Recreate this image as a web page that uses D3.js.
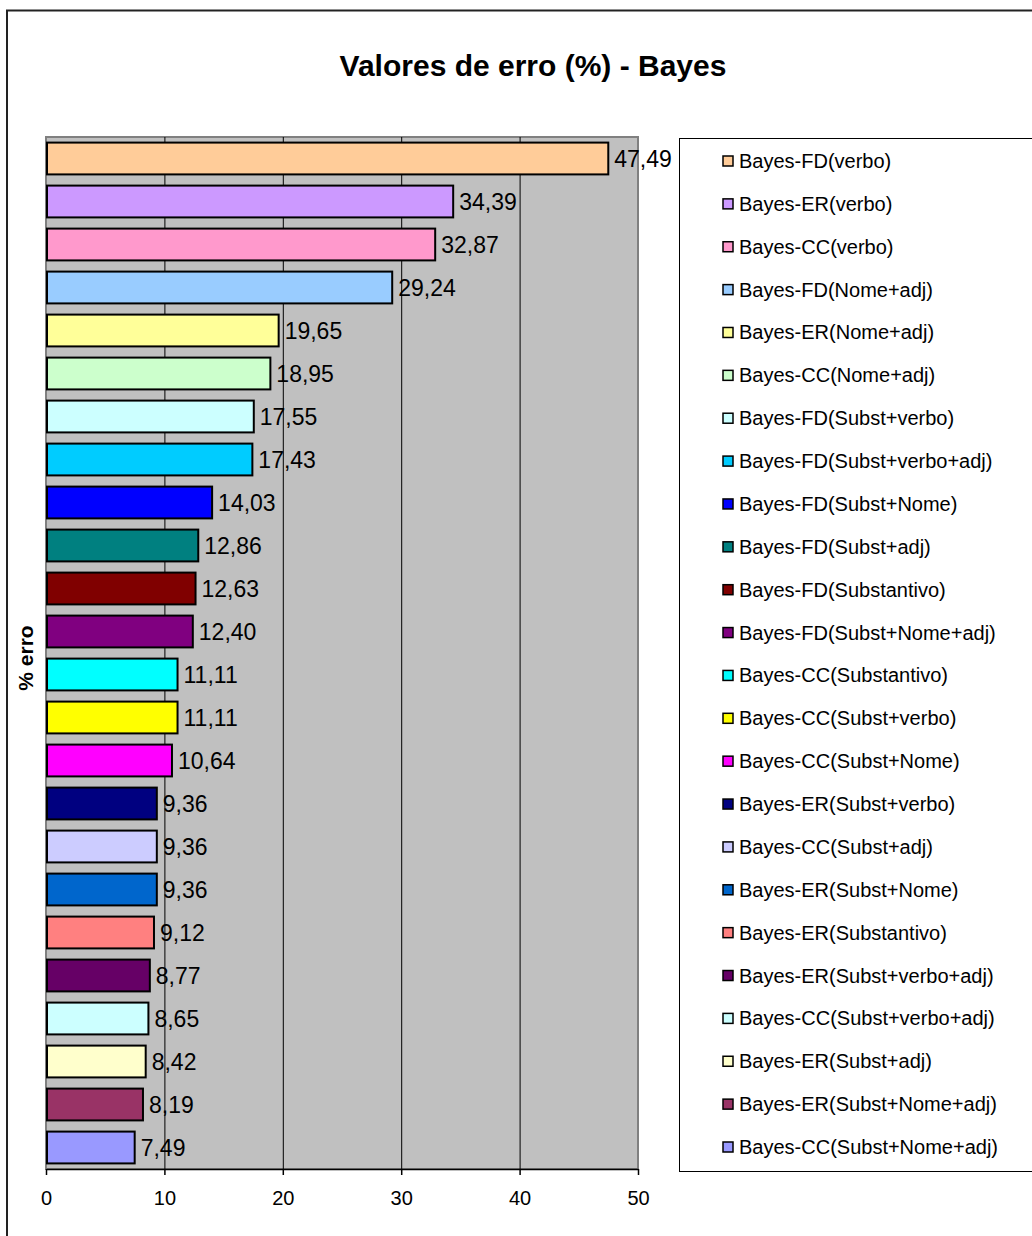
<!DOCTYPE html>
<html>
<head>
<meta charset="utf-8">
<script src="https://cdn.jsdelivr.net/npm/d3@7"></script>
<style>
  body { margin: 0; background: #fff; }
  text { font-family: "Liberation Sans", Arial, sans-serif; fill: #000; }
</style>
</head>
<body>
<div class="container"></div>
<script>
const categories = [
  'Bayes-FD(verbo)',
  'Bayes-ER(verbo)',
  'Bayes-CC(verbo)',
  'Bayes-FD(Nome+adj)',
  'Bayes-ER(Nome+adj)',
  'Bayes-CC(Nome+adj)',
  'Bayes-FD(Subst+verbo)',
  'Bayes-FD(Subst+verbo+adj)',
  'Bayes-FD(Subst+Nome)',
  'Bayes-FD(Subst+adj)',
  'Bayes-FD(Substantivo)',
  'Bayes-FD(Subst+Nome+adj)',
  'Bayes-CC(Substantivo)',
  'Bayes-CC(Subst+verbo)',
  'Bayes-CC(Subst+Nome)',
  'Bayes-ER(Subst+verbo)',
  'Bayes-CC(Subst+adj)',
  'Bayes-ER(Subst+Nome)',
  'Bayes-ER(Substantivo)',
  'Bayes-ER(Subst+verbo+adj)',
  'Bayes-CC(Subst+verbo+adj)',
  'Bayes-ER(Subst+adj)',
  'Bayes-ER(Subst+Nome+adj)',
  'Bayes-CC(Subst+Nome+adj)'
];
const values = [
  47.49, 34.39, 32.87, 29.24, 19.65, 18.95, 17.55, 17.43,
  14.03, 12.86, 12.63, 12.40, 11.11, 11.11, 10.64, 9.36,
  9.36, 9.36, 9.12, 8.77, 8.65, 8.42, 8.19, 7.49
];
const colors = [
  '#ffcc99', '#cc99ff', '#ff99cc', '#99ccff', '#ffff99', '#ccffcc',
  '#ccffff', '#00ccff', '#0000ff', '#008080', '#800000', '#800080',
  '#00ffff', '#ffff00', '#ff00ff', '#000080', '#ccccff', '#0066cc',
  '#ff8080', '#660066', '#ccffff', '#ffffcc', '#993366', '#9999ff'
];
const xTicks = [0, 10, 20, 30, 40, 50];

const width = 1032;
const height = 1236;
const plot = { left: 46, right: 638, top: 137, bottom: 1169 };

const data = categories.map((c, i) => ({ name: c, value: values[i], color: colors[i] }));

const svg = d3.select('.container')
  .append('svg')
  .attr('width', width)
  .attr('height', height);

// outer chart frame
svg.append('rect')
  .attr('x', 7)
  .attr('y', 10.5)
  .attr('width', 1100)
  .attr('height', 1300)
  .attr('fill', 'none')
  .attr('stroke', '#222')
  .attr('stroke-width', 2);

// title
svg.append('text')
  .attr('x', 533)
  .attr('y', 76)
  .attr('text-anchor', 'middle')
  .style('font-size', '30px')
  .style('font-weight', 'bold')
  .text('Valores de erro (%) - Bayes');

// scales
const xScale = d3.scaleLinear()
  .domain([0, 50])
  .range([plot.left, plot.right]);

const yScale = d3.scaleBand()
  .domain(categories)
  .range([plot.top, plot.bottom])
  .paddingInner(0.26)
  .paddingOuter(0.13);

// plot background
svg.append('rect')
  .attr('x', plot.left)
  .attr('y', plot.top)
  .attr('width', plot.right - plot.left)
  .attr('height', plot.bottom - plot.top)
  .attr('fill', '#c0c0c0')
  .attr('stroke', '#808080')
  .attr('stroke-width', 2);

// gridlines
svg.append('g')
  .selectAll('line')
  .data(xTicks.filter(t => t > 0 && t < 50))
  .enter()
  .append('line')
  .attr('x1', d => xScale(d) + 0.5)
  .attr('x2', d => xScale(d) + 0.5)
  .attr('y1', plot.top)
  .attr('y2', plot.bottom)
  .attr('stroke', '#000')
  .attr('stroke-width', 1);

// bars
svg.append('g')
  .selectAll('rect')
  .data(data)
  .enter()
  .append('rect')
  .attr('x', xScale(0) + 1)
  .attr('y', d => yScale(d.name))
  .attr('width', d => xScale(d.value) - xScale(0) - 1)
  .attr('height', yScale.bandwidth())
  .attr('fill', d => d.color)
  .attr('stroke', '#000')
  .attr('stroke-width', 2);

// value labels
svg.append('g')
  .selectAll('text')
  .data(data)
  .enter()
  .append('text')
  .attr('x', d => xScale(d.value) + 6)
  .attr('y', d => yScale(d.name) + yScale.bandwidth() / 2 + 8)
  .style('font-size', '23px')
  .text(d => d.value.toFixed(2).replace('.', ','));

// x axis
const xAxis = svg.append('g')
  .attr('transform', `translate(0, ${plot.bottom})`)
  .call(d3.axisBottom(xScale)
    .tickValues(xTicks)
    .tickSize(6)
    .tickSizeOuter(0)
    .tickPadding(16));
xAxis.select('.domain').attr('stroke', '#000').attr('stroke-width', 1.5);
xAxis.selectAll('.tick line').attr('stroke', '#000').attr('stroke-width', 1.5);
xAxis.selectAll('.tick text')
  .style('font-size', '20px')
  .style('font-family', '"Liberation Sans", Arial, sans-serif')
  .attr('fill', '#000');

// y axis label
svg.append('text')
  .attr('transform', 'translate(33, 658) rotate(-90)')
  .attr('text-anchor', 'middle')
  .style('font-size', '21px')
  .style('font-weight', 'bold')
  .text('% erro');

// legend
const legendTop = 138;
const legendBottom = 1171;
const legend = svg.append('g').attr('id', 'legend');

legend.append('rect')
  .attr('x', 679.5)
  .attr('y', legendTop + 0.5)
  .attr('width', 500)
  .attr('height', legendBottom - legendTop)
  .attr('fill', '#fff')
  .attr('stroke', '#000')
  .attr('stroke-width', 1);

const legendScale = d3.scalePoint()
  .domain(categories)
  .range([161, 1147]);

const items = legend.selectAll('g.item')
  .data(data)
  .enter()
  .append('g')
  .attr('class', 'item')
  .attr('transform', d => `translate(0, ${legendScale(d.name)})`);

items.append('rect')
  .attr('x', 723)
  .attr('y', -5)
  .attr('width', 10)
  .attr('height', 10)
  .attr('fill', d => d.color)
  .attr('stroke', '#000')
  .attr('stroke-width', 1.5);

items.append('text')
  .attr('x', 739)
  .attr('y', 7)
  .style('font-size', '20px')
  .text(d => d.name);
</script>
</body>
</html>
